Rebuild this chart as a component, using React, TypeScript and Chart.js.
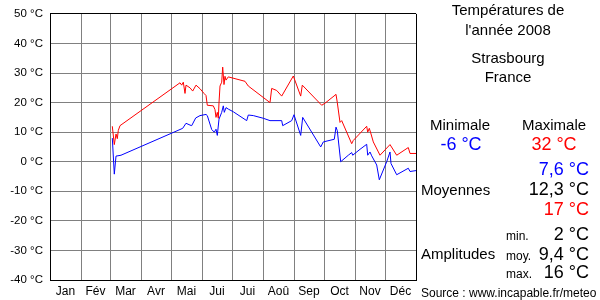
import React, { useEffect, useRef } from "react";
import { Chart, registerables } from "chart.js";

Chart.register(...registerables);

// Day of year (0 = 1 Jan 2008) and temperatures (°C)
const maxDays = [62.3, 64.3, 66, 67.3, 68.3, 70, 130, 131.7, 133.3, 135, 136, 140, 142.7, 146, 150, 154, 156, 157.3, 163.3, 165, 166, 167.3, 168.3, 169, 170, 171.7, 172.7, 174, 175, 176, 178.3, 195, 198.3, 220, 221.7, 226.7, 231.7, 243.3, 250.7, 252.3, 271.7, 275, 285, 286, 287.3, 290, 291.7, 301.7, 303.3, 316.7, 317.7, 319.3, 321, 323.3, 330, 340, 346.7, 358.3, 360, 366];
const maxTemps = [12, 5.8, 9.4, 7.8, 10.6, 12.2, 26.7, 25.9, 26.9, 23.1, 25.9, 25, 23.9, 25.9, 24.7, 23.1, 22.4, 19.1, 18.9, 17.6, 15, 16.7, 14.7, 20, 25.6, 26.9, 32, 26.1, 28.9, 27.6, 28.7, 27.2, 25.6, 20, 24.8, 24.1, 22.2, 29, 22.2, 25.9, 19.1, 19.8, 22.5, 22.8, 20, 13.3, 13.9, 6.1, 7.2, 12, 10, 11.3, 9.4, 6.7, 2.2, 5.8, 2.2, 4.8, 2.8, 2.8];

const minDays = [62.3, 64.3, 66, 71, 130, 132.7, 136, 140, 141.7, 145.7, 150, 156, 157.3, 161.7, 164.3, 166, 167.3, 169, 171.7, 173.3, 174.3, 176, 178.3, 183.3, 196.7, 198.3, 203.3, 213.3, 220, 231.7, 232.7, 241.7, 244, 250.7, 252.7, 270.7, 273.3, 284.3, 286, 287.3, 290.7, 298.3, 301.7, 302.7, 310, 316.7, 317.7, 320, 321.7, 326.7, 329.3, 336.7, 340, 341, 346.7, 358.3, 360, 366];
const minTemps = [8, -4.2, 1.9, 2.2, 10.9, 11.3, 13, 12.4, 12.2, 14.8, 15.6, 16, 15.6, 10.9, 10, 11, 8.9, 14.4, 16.7, 18.9, 16.7, 18.3, 17.8, 16.9, 13.9, 15.8, 15.6, 14.7, 13.9, 13.9, 12.2, 13.9, 15.9, 8.9, 15, 5, 6.7, 7.6, 11.7, 10.5, 0, 2.2, 3.1, 2.2, 4.2, 5.9, 2.2, 3.3, 2, -1.1, -6.1, 0, 3.3, -0.6, -4.4, -2.2, -3.3, -3];

const monthLabels = ["Jan", "Fév", "Mar", "Avr", "Mai", "Jui", "Jui", "Aoû", "Sep", "Oct", "Nov", "Déc"];
const monthStarts = [0, 31, 60, 91, 121, 152, 182, 213, 244, 274, 305, 335, 366];
const yTicks = [-40, -30, -20, -10, 0, 10, 20, 30, 40, 50];

const titleLines = ["Températures de", "l'année 2008", "Strasbourg", "France"];
const extremeLabels = ["Minimale", "Maximale"];
const extremeValues = ["-6 °C", "32 °C"];
const averageValues = ["7,6 °C", "12,3 °C", "17 °C"];
const amplitudeLabels = ["min.", "moy.", "max."];
const amplitudeValues = ["2 °C", "9,4 °C", "16 °C"];
const sourceText = "Source : www.incapable.fr/meteo";

const FONT = '"Liberation Sans", Arial, sans-serif';

const monthCenters = monthLabels.map((_, i) => (monthStarts[i] + monthStarts[i + 1]) / 2);

const textPanel = {
  id: "textPanel",
  afterDraw(chart: any) {
    const ctx = chart.ctx as CanvasRenderingContext2D;
    ctx.save();
    ctx.textBaseline = "alphabetic";
    ctx.fillStyle = "#000";
    ctx.font = `15px ${FONT}`;
    ctx.textAlign = "center";
    ctx.fillText(titleLines[0], 508, 15);
    ctx.fillText(titleLines[1], 508, 35);
    ctx.fillText(titleLines[2], 508, 63);
    ctx.fillText(titleLines[3], 508, 82);
    ctx.fillText(extremeLabels[0], 460, 130);
    ctx.fillText(extremeLabels[1], 554, 130);
    ctx.font = `18px ${FONT}`;
    ctx.fillStyle = "#0000ff";
    ctx.fillText(extremeValues[0], 461, 150);
    ctx.fillStyle = "#ff0000";
    ctx.fillText(extremeValues[1], 554, 150);

    ctx.textAlign = "right";
    ctx.fillStyle = "#0000ff";
    ctx.fillText(averageValues[0], 589, 175);
    ctx.fillStyle = "#000";
    ctx.fillText(averageValues[1], 589, 195);
    ctx.fillStyle = "#ff0000";
    ctx.fillText(averageValues[2], 589, 215);
    ctx.fillStyle = "#000";
    ctx.fillText(amplitudeValues[0], 589, 240);
    ctx.fillText(amplitudeValues[1], 589, 260);
    ctx.fillText(amplitudeValues[2], 589, 278);

    ctx.textAlign = "left";
    ctx.font = `15px ${FONT}`;
    ctx.fillText("Moyennes", 421, 195);
    ctx.fillText("Amplitudes", 421, 259);
    ctx.font = `12px ${FONT}`;
    ctx.fillText(amplitudeLabels[0], 506, 240);
    ctx.fillText(amplitudeLabels[1], 506, 260);
    ctx.fillText(amplitudeLabels[2], 506, 278);
    ctx.fillText(sourceText, 421, 297);
    ctx.restore();
  },
};

export default function App() {
  const ref = useRef<HTMLCanvasElement>(null);
  useEffect(() => {
    if (!ref.current) return;
    const xTickValues = [...monthStarts, ...monthCenters].sort((a, b) => a - b);
    const chart = new Chart(ref.current, {
      type: "line",
      data: {
        datasets: [
          {
            data: maxDays.map((d, i) => ({ x: d, y: maxTemps[i] })),
            borderColor: "#ff0000",
            borderWidth: 1,
            pointRadius: 0,
            tension: 0,
          },
          {
            data: minDays.map((d, i) => ({ x: d, y: minTemps[i] })),
            borderColor: "#0000ff",
            borderWidth: 1,
            pointRadius: 0,
            tension: 0,
          },
        ],
      },
      options: {
        animation: false,
        responsive: false,
        maintainAspectRatio: false,
        events: [],
        layout: { padding: { left: 0, right: 184, top: 10, bottom: 0 } },
        plugins: { legend: { display: false }, tooltip: { enabled: false } },
        scales: {
          x: {
            type: "linear",
            min: 0,
            max: 366,
            afterBuildTicks: (s: any) => {
              s.ticks = xTickValues.map((v) => ({ value: v }));
            },
            afterFit: (s: any) => {
              s.height = 20;
            },
            grid: {
              drawTicks: false,
              lineWidth: 1,
              color: (c: any) => {
                const v = c.tick?.value;
                if (monthStarts.includes(v)) return v === 0 || v === 366 ? "#000" : "#808080";
                return "rgba(0,0,0,0)";
              },
            },
            border: { color: "#000", width: 1 },
            ticks: {
              autoSkip: false,
              maxRotation: 0,
              padding: 4,
              color: "#000",
              font: { family: FONT, size: 12 },
              callback: (v: any) => {
                const i = monthCenters.indexOf(Number(v));
                return i >= 0 ? monthLabels[i] : "";
              },
            },
          },
          y: {
            type: "linear",
            min: -40,
            max: 50,
            afterBuildTicks: (s: any) => {
              s.ticks = yTicks.map((v) => ({ value: v }));
            },
            afterFit: (s: any) => {
              s.width = 50;
            },
            grid: {
              drawTicks: false,
              lineWidth: 1,
              color: (c: any) => (c.tick?.value === 50 ? "#000" : "#808080"),
            },
            border: { color: "#000", width: 1 },
            ticks: {
              padding: 7,
              color: "#000",
              font: { family: FONT, size: 11.5 },
              callback: (v: any) => `${v} °C`,
            },
          },
        },
      },
      plugins: [textPanel],
    });
    return () => chart.destroy();
  }, []);
  return (
    <div style={{ position: "absolute", left: 0, top: 0, width: 600, height: 300, background: "#fff" }}>
      <canvas ref={ref} width={600} height={300} style={{ display: "block", width: 600, height: 300 }} />
    </div>
  );
}
